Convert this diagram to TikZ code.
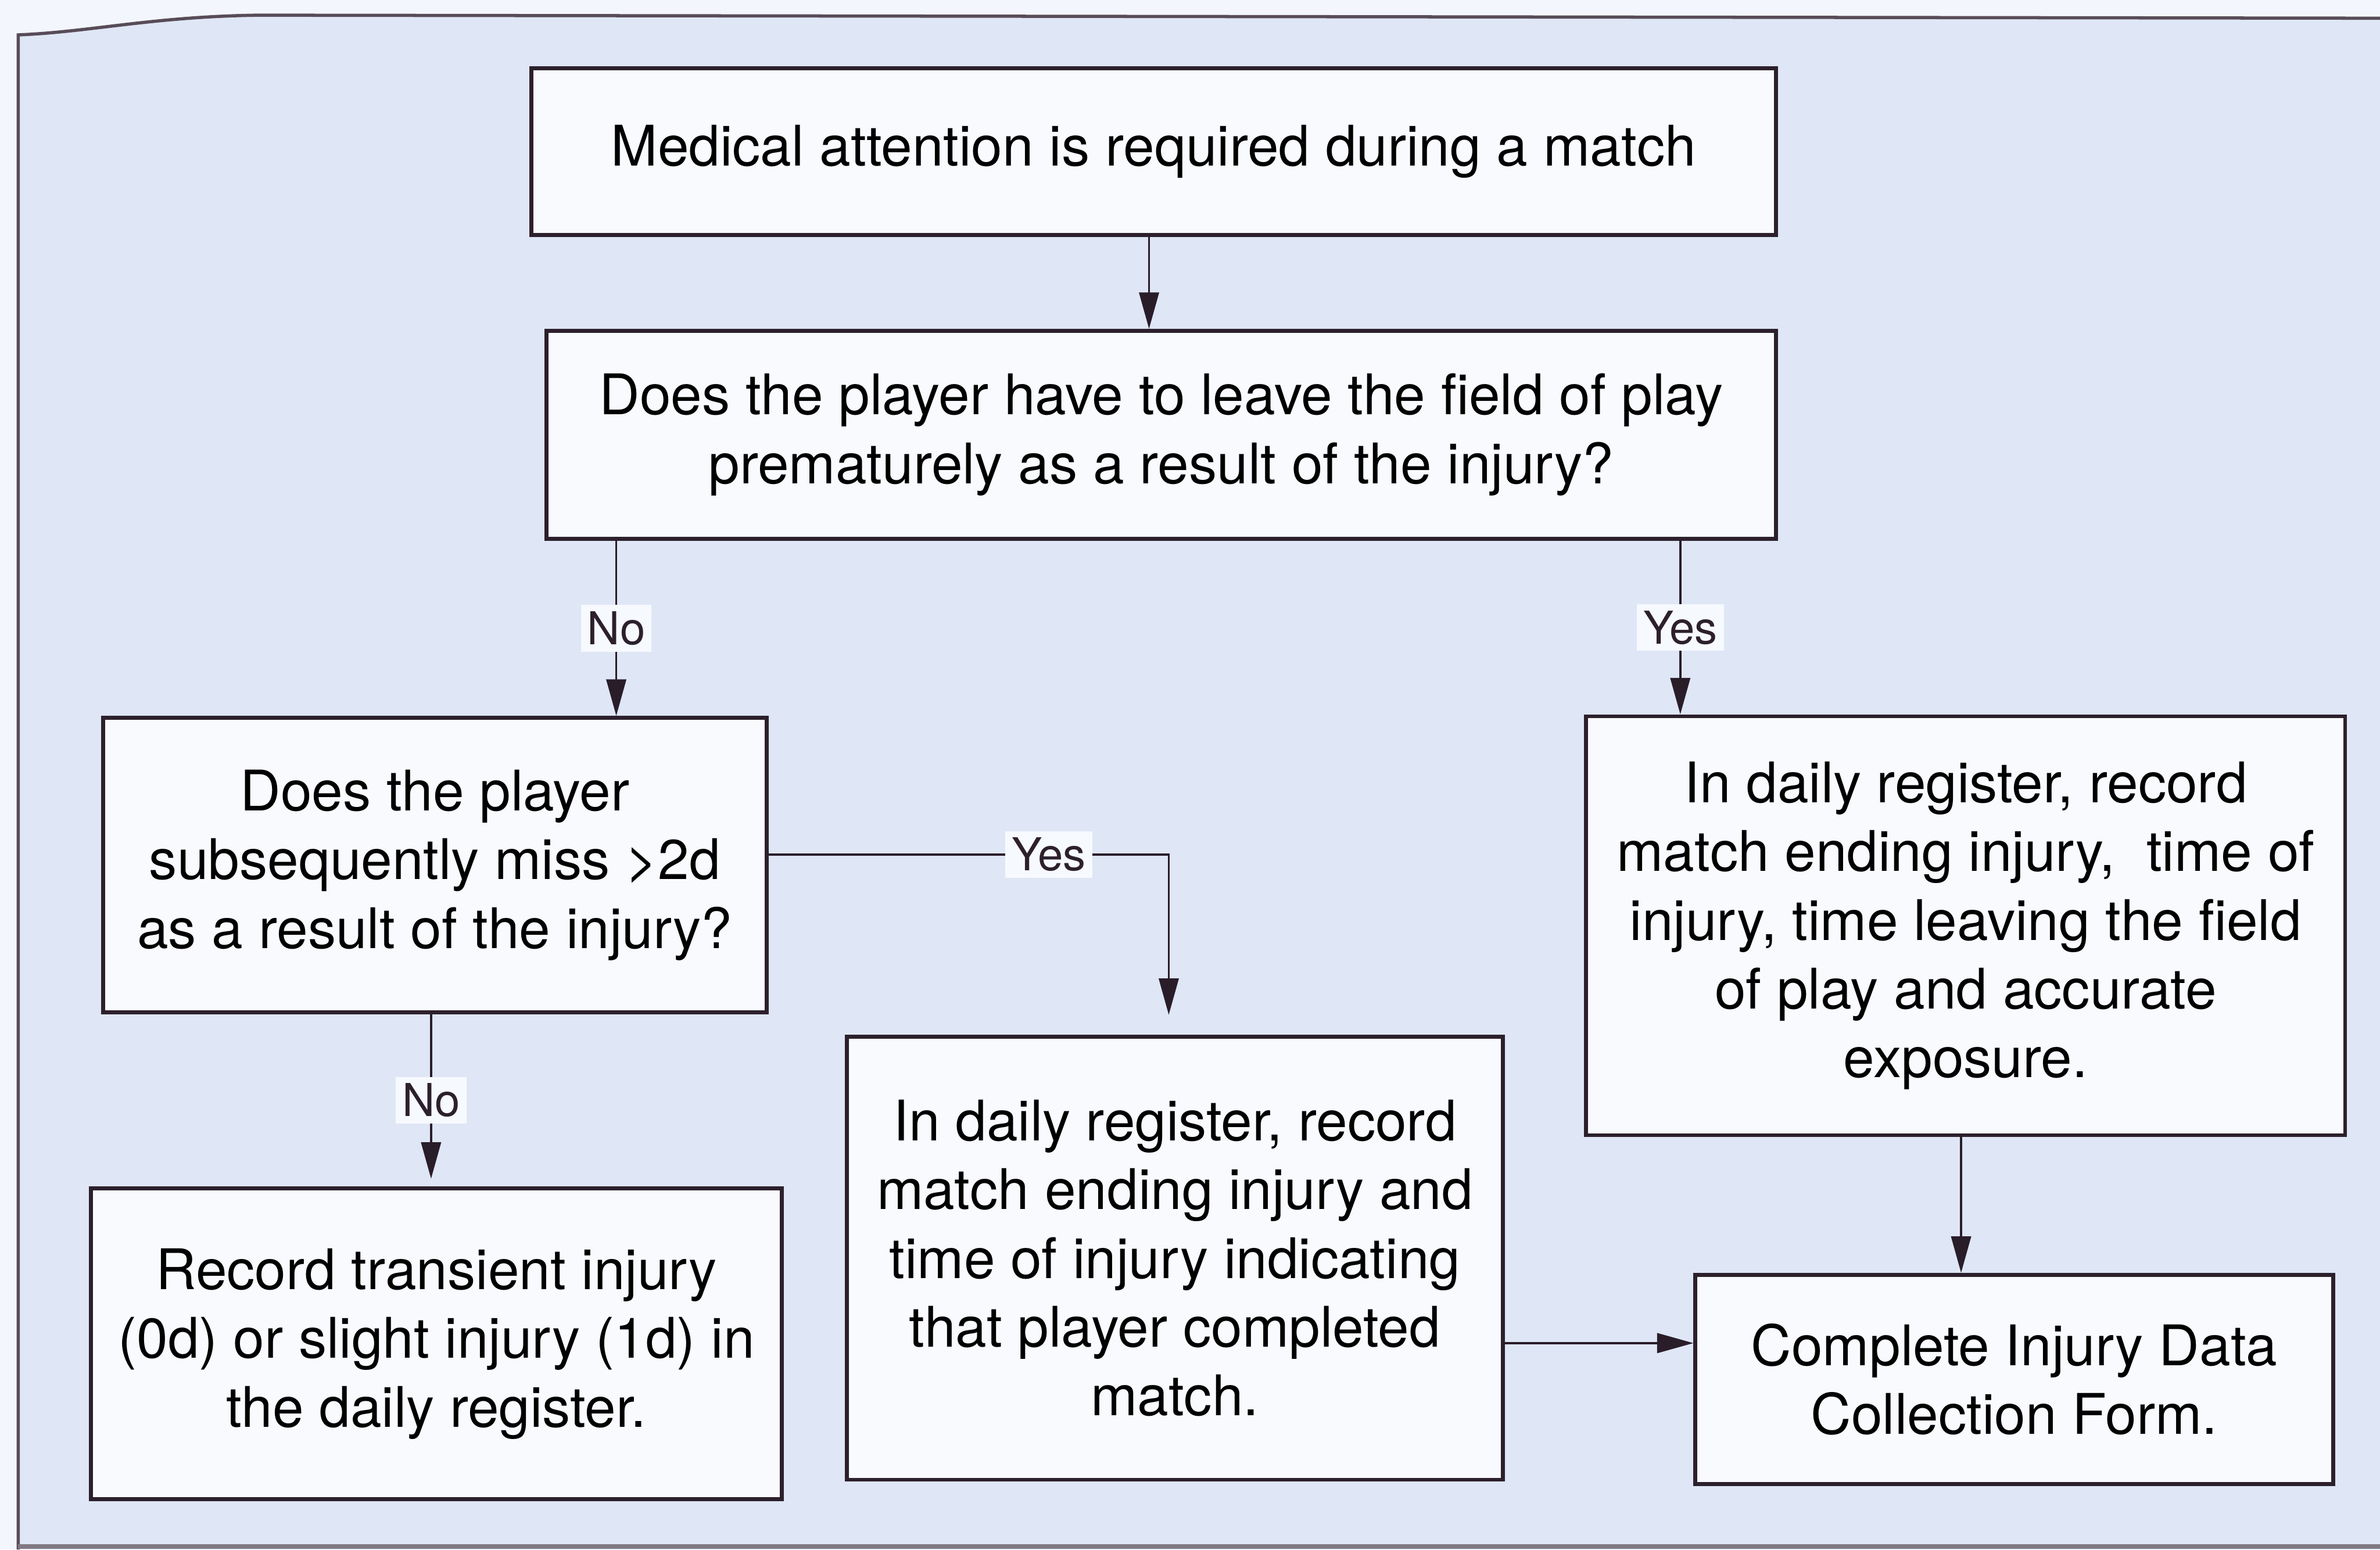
\documentclass[tikz,border=0pt]{standalone}
\usepackage{fontspec}
\setmainfont{TeX Gyre Heros}
\usetikzlibrary{arrows.meta,positioning,calc}
\definecolor{paper}{RGB}{243,247,253}
\definecolor{bgblue}{RGB}{223,231,247}
\definecolor{boxfill}{RGB}{248,250,254}
\definecolor{inkline}{RGB}{45,32,45}
\definecolor{lblfill}{RGB}{246,249,254}
\begin{document}
\begin{tikzpicture}[
  box/.style={draw=inkline, line width=0.75pt, fill=boxfill, align=center, inner sep=0pt,
    font=\fontsize{10.5}{12.9}\selectfont},
  conn/.style={draw=inkline!90!black, line width=0.4pt},
  arr/.style={conn, -{Triangle[width=0.13cm,length=0.24cm]}},
  lbl/.style={fill=lblfill, inner sep=1.2pt, font=\fontsize{8.5}{10}\selectfont, text=inkline}
]
\useasboundingbox (0,0) rectangle (15.68,10.21);
% page and scanned frame
\fill[paper] (0,0) rectangle (15.68,10.21);
\fill[bgblue] (0.12,0) -- (0.12,9.98) .. controls (0.6,10.0) and (1.0,10.1) .. (1.7,10.11) -- (15.68,10.09) -- (15.68,0) -- cycle;
\draw[inkline!80, line width=0.6pt] (0.12,0) -- (0.12,9.98) .. controls (0.6,10.0) and (1.0,10.1) .. (1.7,10.11) -- (15.68,10.09);
\draw[inkline!60, line width=0.8pt] (0.12,0.02) -- (15.68,0.02);

% boxes
\node[box, minimum width=8.20cm, minimum height=1.10cm] (b1) at (7.60,9.21)
  {Medical attention is required during a match};
\node[box, minimum width=8.10cm, minimum height=1.37cm] (b2) at (7.65,7.345)
  {Does the player have to leave the field of play\\prematurely as a result of the injury?};
\node[box, minimum width=4.37cm, minimum height=1.94cm] (b3) at (2.865,4.51)
  {Does the player\\subsequently miss >2d\\as a result of the injury?};
\node[box, minimum width=5.00cm, minimum height=2.76cm] (b4) at (12.95,4.11)
  {In daily register, record\\match ending injury, \ time of\\injury, time leaving the field\\of play and accurate\\exposure.};
\node[box, minimum width=4.55cm, minimum height=2.05cm] (b5) at (2.875,1.355)
  {Record transient injury\\(0d) or slight injury (1d) in\\the daily register.};
\node[box, minimum width=4.32cm, minimum height=2.92cm] (b6) at (7.74,1.92)
  {In daily register, record\\match ending injury and\\time of injury indicating\\that player completed\\match.};
\node[box, minimum width=4.20cm, minimum height=1.38cm] (b7) at (13.27,1.12)
  {Complete Injury Data\\Collection Form.};

% helper coordinates for connector positions
\coordinate (x12) at (7.57,0);
\coordinate (x23) at (4.06,0);
\coordinate (x24) at (11.07,0);
\coordinate (x35) at (2.84,0);
\coordinate (x47) at (12.92,0);
\coordinate (x36) at (7.70,0);
\coordinate (y36) at (0,4.58);
\coordinate (y67) at (0,1.36);

% connectors
\draw[arr] (b1.south -| x12) -- (b2.north -| x12);
\draw[arr] (b2.south -| x23) -- node[lbl, pos=0.5] {No} (b3.north -| x23);
\draw[arr] (b2.south -| x24) -- node[lbl, pos=0.5] {Yes} (b4.north -| x24);
\draw[arr, shorten >=0.13cm] (b3.east |- y36) -| node[lbl, pos=0.35] {Yes} (b6.north -| x36);
\draw[arr, shorten >=0.05cm] (b3.south -| x35) -- node[lbl, pos=0.5] {No} (b5.north -| x35);
\draw[arr] (b4.south -| x47) -- (b7.north -| x47);
\draw[arr] (b6.east |- y67) -- (b7.west |- y67);
\end{tikzpicture}
\end{document}
